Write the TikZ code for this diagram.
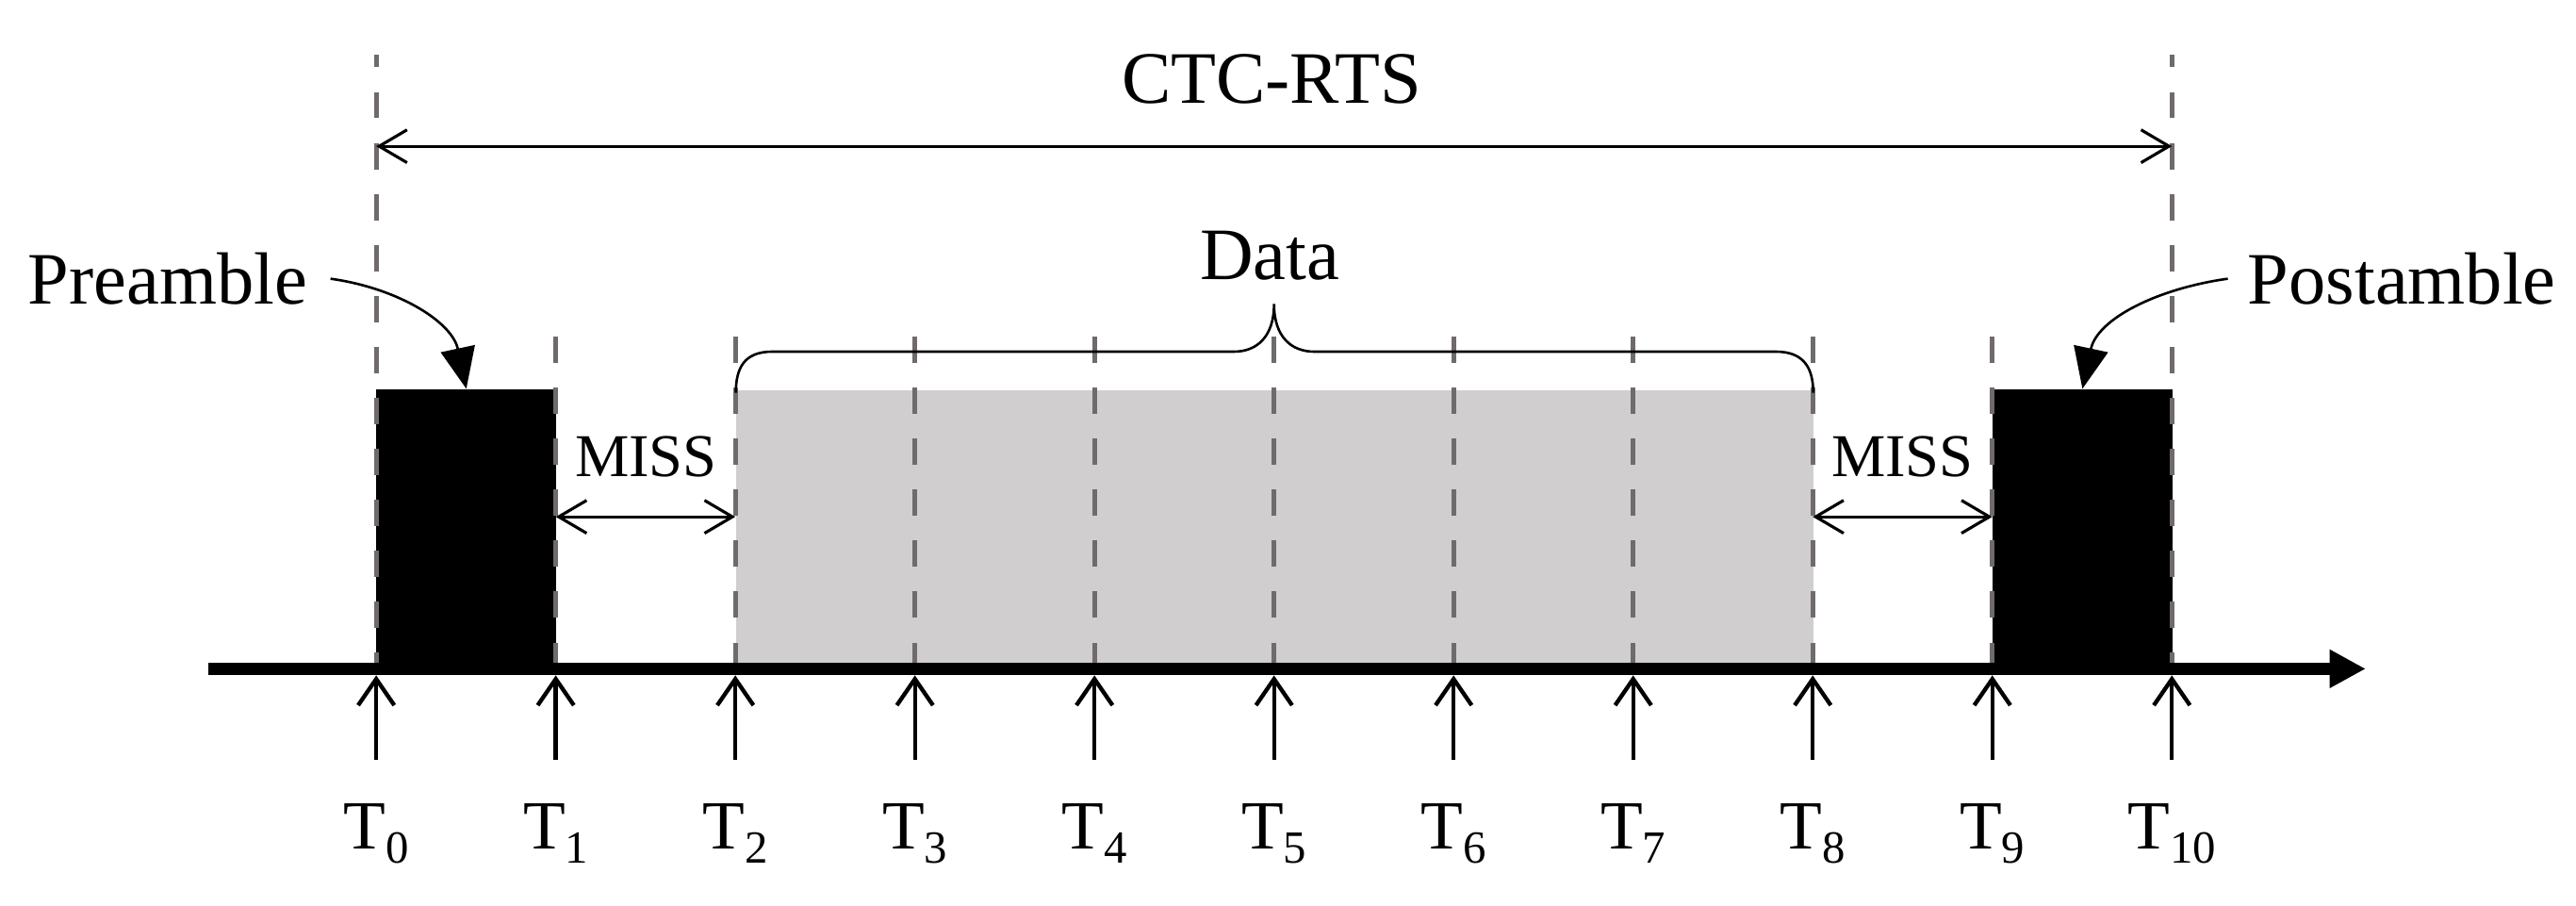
\documentclass[tikz,border=0pt]{standalone}
\usepackage{fontspec}
\setmainfont{Liberation Serif}
\usetikzlibrary{arrows.meta}

\definecolor{slotgray}{RGB}{208,206,206}
\definecolor{guidegray}{RGB}{112,107,107}

\tikzset{
  guide/.style={draw=guidegray,line width=3pt,dash pattern=on 16pt off 15pt},
  packet/.style={fill=black,inner sep=0pt,anchor=south west},
  tick/.style={line width=2.5pt,-{Straight Barb[length=16pt,width=22pt]}},
  span/.style={line width=1.8pt,{Straight Barb[length=17pt,width=20pt]}-{Straight Barb[length=17pt,width=20pt]}},
  callout/.style={line width=1.5pt,-{Triangle[length=25pt,width=21pt]}},
  bigtext/.style={font=\fontsize{45}{54}\selectfont,inner sep=0pt,anchor=base},
  misstext/.style={font=\fontsize{37}{44}\selectfont,inner sep=0pt,anchor=base},
  tlabel/.style={font=\fontsize{42}{50}\selectfont,inner sep=0pt,anchor=base}
}
\newcommand{\tsub}[1]{T\raisebox{-8.6pt}{\fontsize{28}{30}\selectfont #1}}

\begin{document}
\begin{tikzpicture}[x=1pt,y=1pt,yscale=-1]
\useasboundingbox (0,0) rectangle (1568,551);

% time instants on the axis
\foreach \i in {0,...,10}
  \coordinate (t\i) at ({229+109.3*\i},407);
\coordinate (longtop) at (0,33);
\coordinate (shorttop) at (0,192);
\coordinate (ctcrow) at (0,89);
\coordinate (missrow) at (0,314.5);
\coordinate (tickbot) at (0,462.5);
\coordinate (ticktip) at (0,411);
\coordinate (labrow) at (0,516.4);

% packets
\node (preBox) [packet,minimum width=109.3pt,minimum height=170pt] at (t0) {};
\node (dataBox) [packet,fill=slotgray,minimum width=655.8pt,minimum height=169pt] at (t2) {};
\node (postBox) [packet,minimum width=109.3pt,minimum height=170pt] at (t9) {};

% dashed guides
\draw[guide,dash phase=6pt] (t0) -- (t0 |- longtop);
\draw[guide,dash phase=6pt] (t10) -- (t10 |- longtop);
\foreach \i in {1,...,9}
  \draw[guide] (t\i) -- (t\i |- shorttop);

% time axis
\coordinate (axisL) at (127,407);
\coordinate (axisR) at (1440,407);
\draw[line width=7pt,-{Triangle[length=22pt,width=22pt]}] (axisL) -- (axisR);

% instants
\foreach \i in {0,...,10} {
  \draw[tick] (t\i |- tickbot) -- (t\i |- ticktip);
  \node[tlabel] (lab\i) at (t\i |- labrow) {\tsub{\i}};
}

% CTC-RTS span
\draw[span] (t0 |- ctcrow) -- (t10 |- ctcrow);
\node[bigtext] (ctc) at (774,62.7) {CTC-RTS};

% gaps
\draw[span] (t1 |- missrow) -- (t2 |- missrow);
\node[misstext] (miss1) at (393.2,290) {MISS};
\draw[span] (t8 |- missrow) -- (t9 |- missrow);
\node[misstext] (miss2) at (1158,290) {MISS};

% data brace
\draw[line width=1.5pt] (447.9,239) .. controls (447.9,224) and (453,214) .. (470,214)
  -- (751,214) .. controls (765,214) and (775.5,205) .. (775.5,185)
  .. controls (775.5,205) and (786,214) .. (800,214)
  -- (1081,214) .. controls (1098,214) and (1103.7,224) .. (1103.7,239);
\node[bigtext] (data) at (773,170) {Data};

% preamble / postamble
\node[bigtext] (pre) at (102,185) {Preamble};
\node[bigtext] (post) at (1462,185) {Postamble};
\draw[callout] ([xshift=14pt]pre.east) to[out=8,in=-102] (preBox.north);
\draw[callout] ([xshift=-12pt]post.west) to[out=172,in=-78] (postBox.north);

\end{tikzpicture}
\end{document}
